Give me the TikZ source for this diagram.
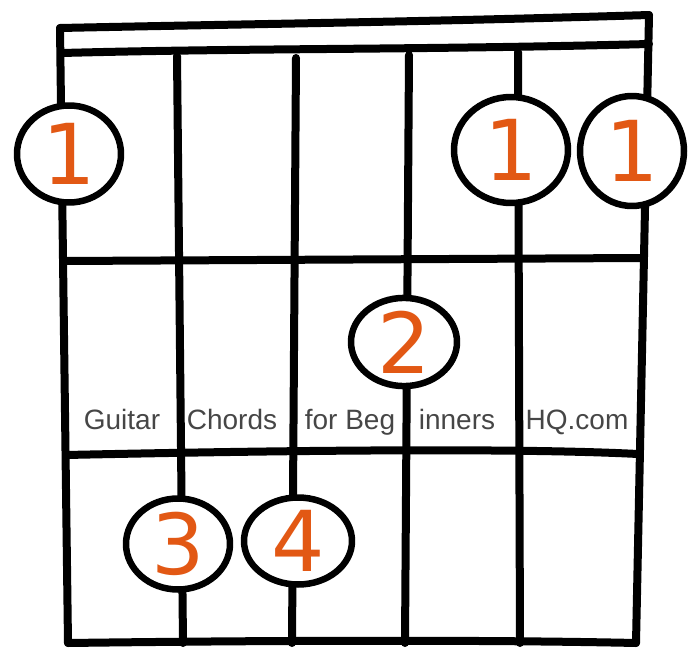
\documentclass[tikz,border=0pt]{standalone}
\usepackage{fontspec}
\setmainfont{DejaVu Sans}
\newfontfamily\handfont{Liberation Sans}
\usetikzlibrary{shapes.geometric}
\definecolor{fingerorange}{RGB}{226,88,20}
\definecolor{inkgray}{RGB}{70,70,70}
\begin{document}
\begin{tikzpicture}[x=1pt,y=-1pt,
  line cap=round, line join=round,
  wire/.style={line width=8pt},
  finger/.style={ellipse, draw, line width=6.5pt, fill=white, inner sep=0pt,
    text=fingerorange, font=\fontsize{84}{84}\selectfont},
  wordlabel/.style={text=inkgray, font=\handfont\fontsize{28}{28}\selectfont,
    inner sep=0pt, anchor=base}
]
\useasboundingbox (0,0) rectangle (697,648);

% string end points
\coordinate (s1t) at (60,28);  \coordinate (s1b) at (68,643);
\coordinate (s2t) at (177,56); \coordinate (s2b) at (183,643);
\coordinate (s3t) at (296,58); \coordinate (s3b) at (292,643);
\coordinate (s4t) at (409,55); \coordinate (s4b) at (405,643);
\coordinate (s5t) at (518,52); \coordinate (s5b) at (520,643);
\coordinate (s6t) at (649,15); \coordinate (s6b) at (636,643);

% nut
\coordinate (n2l) at (62,53); \coordinate (n2r) at (649,44);
\draw[wire] (s1t) .. controls (250,24) and (420,22) .. (s6t);
\draw[wire] (n2l) .. controls (250,48) and (420,50) .. (n2r);

% strings
\draw[wire] (s1t) -- (s1b);
\draw[wire] (s2t) -- (s2b);
\draw[wire] (s3t) -- (s3b);
\draw[wire] (s4t) -- (s4b);
\draw[wire] (s5t) -- (s5b);
\draw[wire] (s6t) -- (s6b);

% frets
\coordinate (f1l) at (64,261); \coordinate (f1r) at (641,258);
\coordinate (f2l) at (66,455); \coordinate (f2r) at (638,454);
\draw[wire] (f1l) -- (f1r);
\draw[wire] (f2l) .. controls (300,450) and (520,448) .. (f2r);
\draw[wire] (s1b) .. controls (300,640) and (500,640) .. (s6b);

% fingers
\node[finger, minimum width=104pt, minimum height=97pt] (c1) at (69,154) {1};
\node[finger, minimum width=106pt, minimum height=84pt] (c2) at (404,342) {2};
\node[finger, minimum width=104pt, minimum height=91pt] (c3) at (178,544) {3};
\node[finger, minimum width=108pt, minimum height=87pt] (c4) at (298,541) {4};
\node[finger, minimum width=114pt, minimum height=106pt] (c5) at (511,150) {1};
\node[finger, minimum width=104pt, minimum height=110pt] (c6) at (632,151) {1};

% text
\node[wordlabel] (w1) at (122,429) {Guitar};
\node[wordlabel] (w2) at (232,429) {Chords};
\node[wordlabel] (w3) at (350,429) {for Beg};
\node[wordlabel] (w4) at (457,429) {inners};
\node[wordlabel] (w5) at (577,429) {HQ.com};
\end{tikzpicture}
\end{document}
